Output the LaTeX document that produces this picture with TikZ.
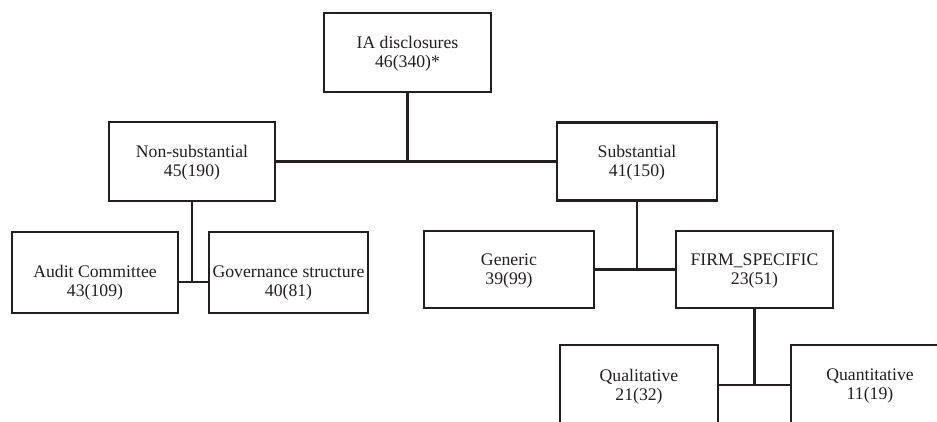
\documentclass[tikz,border=0pt]{standalone}
\usepackage{fontspec}
\setmainfont{Liberation Serif}
\definecolor{ink}{HTML}{231F20}
\begin{document}
\begin{tikzpicture}[x=1pt,y=1pt,
  boxnode/.style={draw=ink,line width=2.3pt,rectangle,inner sep=0pt,fill=white},
  txt/.style={align=center,text=ink,inner sep=0pt,font=\fontsize{17.7pt}{19pt}\selectfont},
  conn/.style={draw=ink,line width=2.5pt}]
\useasboundingbox (0,0) rectangle (937,421);
\clip (0,0) rectangle (937,421);
% boxes
\node[boxnode,minimum width=167,minimum height=79] (ia) at (407.5,368.5) {};
\node[boxnode,minimum width=166,minimum height=79] (ns) at (192,259.5) {};
\node[boxnode,minimum width=160,minimum height=78] (ss) at (637,259.5) {};
\node[boxnode,minimum width=166,minimum height=81] (ac) at (95,148.5) {};
\node[boxnode,minimum width=159,minimum height=81] (gs) at (288.5,148.5) {};
\node[boxnode,minimum width=170,minimum height=77] (ge) at (509,151.5) {};
\node[boxnode,minimum width=157,minimum height=77] (fs) at (754.5,151.5) {};
\node[boxnode,minimum width=158,minimum height=80] (ql) at (639,36) {};
\node[boxnode,minimum width=158,minimum height=80] (qn) at (870,36) {};
% texts
\node[txt] (iat) at ([yshift=-1.5pt]ia.center) {IA disclosures\\46(340)*};
\node[txt] (nst) at ([yshift=-1.5pt]ns.center) {Non-substantial\\45(190)};
\node[txt] (sst) at ([yshift=-1.5pt]ss.center) {Substantial\\41(150)};
\node[txt] (act) at ([yshift=-10.5pt]ac.center) {Audit Committee\\43(109)};
\node[txt] (gst) at ([yshift=-10.5pt]gs.center) {Governance structure\\40(81)};
\node[txt] (get) at ([yshift=-1.5pt]ge.center) {Generic\\39(99)};
\node[txt] (fst) at ([yshift=-1.5pt]fs.center) {FIRM\_SPECIFIC\\23(51)};
\node[txt] (qlt) at ([yshift=-1.5pt]ql.center) {Qualitative\\21(32)};
\node[txt] (qnt) at ([yshift=-1.5pt]qn.center) {Quantitative\\11(19)};
% connectors
\coordinate (j1) at (ia.south |- ns.east);
\draw[conn] (ia.south) -- (j1);
\draw[conn] (ns.east) -- (ss.west);
\coordinate (j2) at ([yshift=-9.5pt]ns.south |- ac.east);
\draw[conn] (ns.south) -- (j2);
\draw[conn] (ac.east |- j2) -- (gs.west |- j2);
\coordinate (j3) at (ss.south |- ge.east);
\draw[conn] (ss.south) -- (j3);
\draw[conn] (ge.east) -- (fs.west);
\coordinate (j4) at (fs.south |- ql.east);
\draw[conn] (fs.south) -- (j4);
\draw[conn] (ql.east) -- (qn.west);
\end{tikzpicture}
\end{document}
